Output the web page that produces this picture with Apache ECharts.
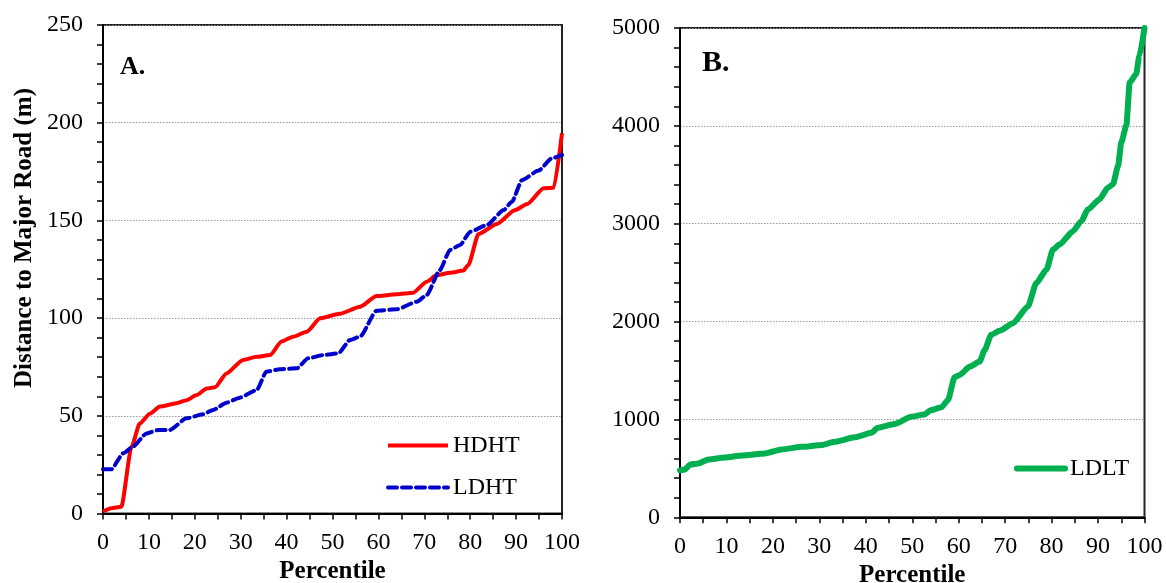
<!DOCTYPE html>
<html><head><meta charset="utf-8">
<script src="https://cdn.jsdelivr.net/npm/echarts@6/dist/echarts.min.js"></script>
<style>html,body{margin:0;padding:0;background:#fff}#c{width:1166px;height:583px}</style>
</head><body><div id="c"></div>
<script>
// Panel A: HDHT (solid red)
const hdhtPct = [0,1.8,4.0,6.2,8.0,10.2,12.4,16,18.2,20.4,22.6,24.4,26.9,30.5,33.5,36.4,38.9,41.4,44.4,47.3,51.6,56,59.6,64,67.6,70.5,72.7,75.6,78.5,79.6,81.8,85.8,89.8,92.4,96,98.2,100];
const hdhtVal = [1,2.7,3.5,34,46,51,54.7,56.4,58,60.6,64,64.6,71.7,78.6,80.2,81.1,88,90.5,93,99.9,102.2,105.8,111.3,112.2,113,118.6,122,123.2,124.3,127.2,143,148.2,155.3,158.4,166.4,166.7,194.6];
// Panel A: LDHT (dashed blue)
const ldhtPct = [0,1.8,4.4,6.5,9.5,12,14.5,18.2,21.8,24,26.9,29.8,33.5,35.6,38.5,42.2,44.7,48,51.3,53.8,56,59.6,64,68.4,70.5,73.4,75.6,77.8,80,83.6,87.3,89.1,91.3,94.9,97.8,100];
const ldhtVal = [22.6,22.6,30.8,34.2,41,42.7,42.7,48.7,50.8,53,56.7,59.3,63.2,72.6,73.8,74.3,79.4,81.1,82,88.8,90.5,103.8,104.5,108.4,111.8,124.6,134.9,137.4,144.2,147.6,155.3,159.6,170.7,175.5,181.8,183.5];
// Panel B: LDLT (green)
const ldltPct = [0,1.1,2.2,3.9,6.1,9.7,13.3,18.3,21.9,26.2,30.5,33.3,37.6,41.2,42.6,46.2,49.8,52.5,54.1,56.3,57.7,59.1,60.2,62.4,64.5,65.6,67,68.8,71.7,74.9,76.7,78.9,80.3,81.7,84.6,86.4,87.8,90.3,92.1,93.2,94.3,95,96.1,96.8,98.2,98.9,100];
const ldltVal = [480,489,540,550,591,611,632,653,694,720,738,772,817,864,915,953,1028,1050,1096,1124,1199,1431,1455,1540,1591,1711,1865,1906,1984,2155,2394,2531,2736,2787,2923,3026,3146,3248,3368,3402,3589,3829,4006,4443,4529,4716,5000];

const xTicks = {min:0, max:100, interval:10};
const yTicksA = {min:0, max:250, interval:50};
const yTicksB = {min:0, max:5000, interval:1000};

const FONT = 'Liberation Serif';
const pair = (xs, ys) => xs.map((x, i) => [x, ys[i]]);

function xAxisCfg(gi) {
  return {
    type:'value', gridIndex:gi, min:xTicks.min, max:xTicks.max, interval:xTicks.interval,
    name:'Percentile', nameLocation:'middle', nameGap:42,
    nameTextStyle:{fontFamily:FONT, fontWeight:'bold', fontSize:25, color:'#000'},
    axisLine:{show:true, onZero:false, lineStyle:{color:'#000', width:2}},
    axisTick:{show:true, inside:false, length:6, lineStyle:{color:'#000', width:1.5}},
    minorTick:{show:true, splitNumber:2, length:6, lineStyle:{color:'#000', width:1.5}},
    axisLabel:{fontFamily:FONT, fontSize:24, color:'#000', margin:17, formatter:v => String(v)},
    splitLine:{show:false}
  };
}
function yAxisCfg(gi, t) {
  return {
    type:'value', gridIndex:gi, min:t.min, max:t.max, interval:t.interval,
    axisLine:{show:true, lineStyle:{color:'#000', width:2}},
    axisTick:{show:true, inside:false, length:6, lineStyle:{color:'#000', width:1.5}},
    minorTick:{show:true, splitNumber:5, length:6, lineStyle:{color:'#000', width:1.5}},
    axisLabel:{fontFamily:FONT, fontSize:24, color:'#000', margin:20, formatter:v => String(v)},
    splitLine:{show:true, lineStyle:{color:'#999', width:1, type:[1.5,1.5]}}
  };
}

const hiddenSymbol = {color:'rgba(0,0,0,0)', borderWidth:0, opacity:0};

const chart = echarts.init(document.getElementById('c'), null, {renderer:'canvas'});
chart.setOption({
  animation:false,
  backgroundColor:'#fff',
  title:[
    {text:'A.', left:120, top:54, padding:0, textStyle:{fontFamily:FONT, fontWeight:'bold', fontSize:26, color:'#000'}},
    {text:'B.', left:702, top:48, padding:0, textStyle:{fontFamily:FONT, fontWeight:'bold', fontSize:30, color:'#000'}}
  ],
  grid:[
    {left:103, top:25, width:459, height:488.5, show:true, borderColor:'#222', borderWidth:2, backgroundColor:'transparent', containLabel:false, outerBoundsMode:'none'},
    {left:680, top:28, width:464.5, height:489.3, show:true, borderColor:'#222', borderWidth:2, backgroundColor:'transparent', containLabel:false, outerBoundsMode:'none'}
  ],
  xAxis:[xAxisCfg(0), xAxisCfg(1)],
  yAxis:[yAxisCfg(0, yTicksA), yAxisCfg(1, yTicksB)],
  legend:[
    {data:['HDHT','LDHT'], orient:'vertical', left:381, top:428.5, itemWidth:60, itemHeight:14, itemGap:18,
     itemStyle:hiddenSymbol, lineStyle:{width:4},
     textStyle:{fontFamily:FONT, fontSize:24, color:'#000'}},
    {data:['LDLT'], orient:'vertical', left:1009, top:451.5, itemWidth:48, itemHeight:14,
     itemStyle:hiddenSymbol, lineStyle:{width:6},
     textStyle:{fontFamily:FONT, fontSize:24, color:'#000'}}
  ],
  graphic:[
    {type:'text', x:25, y:238, rotation:Math.PI/2,
     style:{text:'Distance to Major Road (m)', font:'bold 25px "Liberation Serif"', fill:'#000', textAlign:'center', textVerticalAlign:'middle'}}
  ],
  series:[
    {name:'HDHT', type:'line', xAxisIndex:0, yAxisIndex:0, data:pair(hdhtPct, hdhtVal), showSymbol:false, symbol:'none',
     smooth:0.2, smoothMonotone:'x', color:'#FF0000', lineStyle:{color:'#FF0000', width:4, join:'round'}},
    {name:'LDHT', type:'line', xAxisIndex:0, yAxisIndex:0, data:pair(ldhtPct, ldhtVal), showSymbol:false, symbol:'none',
     smooth:0.2, smoothMonotone:'x', color:'#0000CC', lineStyle:{color:'#0000CC', width:4, type:[9,5], cap:'round', join:'round'}},
    {name:'LDLT', type:'line', xAxisIndex:1, yAxisIndex:1, data:pair(ldltPct, ldltVal), showSymbol:false, symbol:'none',
     smooth:0.2, smoothMonotone:'x', color:'#00B050', lineStyle:{color:'#00B050', width:6, join:'round', cap:'round'}}
  ]
});
</script></body></html>
